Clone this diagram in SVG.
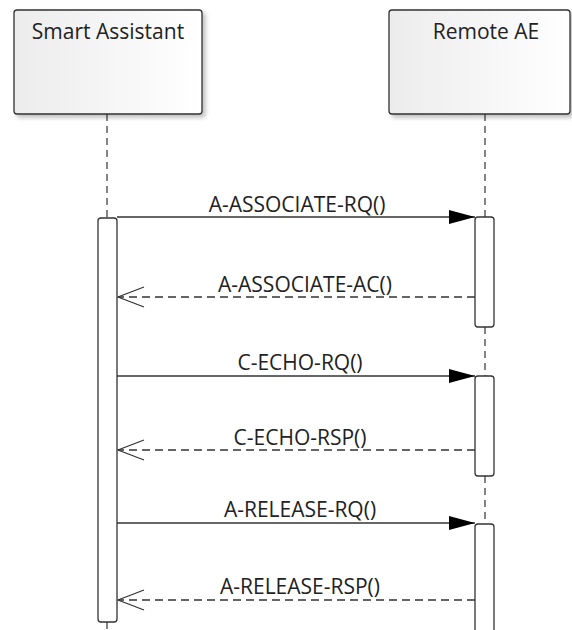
<svg xmlns="http://www.w3.org/2000/svg" width="572" height="630" viewBox="0 0 572 630">
<defs>
<linearGradient id="g" x1="0" y1="0" x2="1" y2="0">
<stop offset="0" stop-color="#ececec"/>
<stop offset="1" stop-color="#ffffff"/>
</linearGradient>
<filter id="sh" x="-10%" y="-10%" width="130%" height="130%">
<feGaussianBlur in="SourceAlpha" stdDeviation="2"/>
<feOffset dx="3" dy="3"/>
<feComponentTransfer><feFuncA type="linear" slope="0.25"/></feComponentTransfer>
<feMerge><feMergeNode/><feMergeNode in="SourceGraphic"/></feMerge>
</filter>
<marker id="filled" markerWidth="26" markerHeight="14" refX="26" refY="7" orient="auto" markerUnits="userSpaceOnUse">
<path d="M0,0 L26,7 L0,14 Z" fill="#000"/>
</marker>
<marker id="open" markerWidth="28" markerHeight="22" refX="27" refY="11" orient="auto" markerUnits="userSpaceOnUse">
<path d="M1,1 L27,11 L1,21" fill="none" stroke="#333" stroke-width="1.2"/>
</marker>
</defs>
<style>
.box{fill:url(#g);stroke:#333;stroke-width:1.3}
.act{fill:#fff;stroke:#333;stroke-width:1.3}
.life{stroke:#333;stroke-width:1.2;stroke-dasharray:7,5;fill:none}
.t{font-family:"Segoe UI","Open Sans","Noto Sans",sans-serif;font-size:21px;fill:#222;text-anchor:middle}
.msg{stroke:#333;stroke-width:1.3;fill:none}
.ret{stroke:#333;stroke-width:1.3;fill:none;stroke-dasharray:8,5}
</style>
<rect width="572" height="630" fill="#fff"/>
<g id="lifelines">
<line class="life" x1="107" y1="114" x2="107" y2="218"/>
<line class="life" x1="485" y1="114" x2="485" y2="217"/>
<line class="life" x1="485" y1="327" x2="485" y2="376"/>
<line class="life" x1="485" y1="476" x2="485" y2="524"/>
<line class="life" x1="107" y1="622" x2="107" y2="630"/>
</g>
<g id="smart-assistant">
<rect class="box" x="14" y="10" width="188" height="104" rx="3" filter="url(#sh)"/>
<text class="t" x="108" y="39">Smart Assistant</text>
</g>
<g id="remote-ae">
<rect class="box" x="389" y="10" width="181" height="104" rx="3" filter="url(#sh)"/>
<text class="t" x="486" y="39">Remote AE</text>
</g>
<g id="act-sa">
<rect class="act" x="98" y="218" width="19" height="404" rx="3"/>
</g>
<g id="act-ae-1">
<rect class="act" x="475" y="217" width="19" height="110" rx="3"/>
</g>
<g id="act-ae-2">
<rect class="act" x="475" y="376" width="19" height="100" rx="3"/>
</g>
<g id="act-ae-3">
<rect class="act" x="475" y="524" width="19" height="112" rx="3"/>
</g>
<g id="connectors">
<line class="msg" x1="117" y1="217" x2="475" y2="217" marker-end="url(#filled)"/>
<text class="t" x="297" y="212">A-ASSOCIATE-RQ()</text>
<line class="ret" x1="475" y1="297" x2="118" y2="297" marker-end="url(#open)"/>
<text class="t" x="305" y="292">A-ASSOCIATE-AC()</text>
<line class="msg" x1="117" y1="376" x2="475" y2="376" marker-end="url(#filled)"/>
<text class="t" x="300" y="370">C-ECHO-RQ()</text>
<line class="ret" x1="475" y1="450" x2="118" y2="450" marker-end="url(#open)"/>
<text class="t" x="300" y="445">C-ECHO-RSP()</text>
<line class="msg" x1="117" y1="523" x2="475" y2="523" marker-end="url(#filled)"/>
<text class="t" x="300" y="517">A-RELEASE-RQ()</text>
<line class="ret" x1="475" y1="600" x2="118" y2="600" marker-end="url(#open)"/>
<text class="t" x="300" y="594">A-RELEASE-RSP()</text>
</g>
</svg>
